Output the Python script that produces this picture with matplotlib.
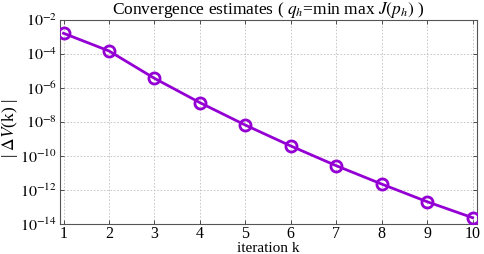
import matplotlib
matplotlib.use("Agg")
import matplotlib.pyplot as plt
import numpy as np
from matplotlib.ticker import FixedLocator, NullLocator

plt.rcParams['font.family'] = ['Liberation Serif', 'DejaVu Serif']
plt.rcParams['mathtext.fontset'] = 'stix'

iterations = [1, 2, 3, 4, 5, 6, 7, 8, 9, 10]
log_delta = [-2.78, -3.82, -5.43, -6.86, -8.18, -9.41, -10.57, -11.65, -12.69, -13.63]
delta_v = [10.0 ** v for v in log_delta]
ytick_exps = [-2, -4, -6, -8, -10, -12, -14]

W, H = 484, 254
fig = plt.figure(figsize=(W / 100, H / 100), dpi=100)
ax = fig.add_axes([60/W, 1 - 224/H, (476.7-60)/W, (224-20)/H])

ax.plot(iterations, delta_v, color='#9400d3', lw=2.0, marker='o', ms=8,
        mfc='none', mec='#9400d3', mew=2.0, zorder=3)

ax.set_yscale('log')
ax.set_ylim(1e-14, 1e-2)
ax.set_xlim(0.923, 10.09)
ax.yaxis.set_major_locator(FixedLocator([10.0 ** e for e in ytick_exps]))
ax.yaxis.set_minor_locator(NullLocator())
ax.set_yticklabels([r'$10^{%d}$' % e for e in ytick_exps])
ax.set_xticks(iterations)
ax.tick_params(axis='x', labelsize=11.5, pad=1.5)
ax.tick_params(axis='y', labelsize=11.5, pad=2)
ax.tick_params(direction='in', top=True, right=True, length=3, width=0.6, colors='#333333', labelcolor='black')
ax.grid(True, color='#c0c0c0', linestyle=(0, (2, 2)), linewidth=0.6)
for s in ax.spines.values():
    s.set_color('#555555')
    s.set_linewidth(0.8)

fig.text(268/W, 1 - 248/H, 'iteration k', fontsize=11, ha='center', va='center')
fig.text(10/W, 1 - 128/H, r'| $\Delta V$(k) |', fontsize=12.5, rotation=90,
         ha='center', va='center')
fig.text(268/W, 1 - 10/H, r'Convergence estimates ( $q_h$=min max $J(p_h)$ )',
         fontsize=12.5, ha='center', va='center')

fig.savefig('out.png', dpi=100)
